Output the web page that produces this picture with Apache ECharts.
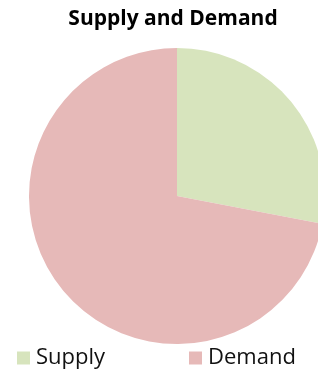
<!DOCTYPE html>
<html><head><meta charset="utf-8">
<script src="https://cdn.jsdelivr.net/npm/echarts@6/dist/echarts.min.js"></script>
<style>html,body{margin:0;padding:0;background:#fff}#c{width:318px;height:370px}</style>
</head><body><div id="c"></div>
<script>
const titleText = 'Supply and Demand';
const categories = ['Supply', 'Demand'];
const values = [28, 72];
const colors = ['#d7e4bd', '#e6b9b8'];

const chart = echarts.init(document.getElementById('c'), null, {renderer: 'canvas'});
const legendText = {fontFamily: 'Open Sans', fontSize: 22, color: '#111', padding: [0,0,0,1]};
chart.setOption({
  animation: false,
  color: colors,
  title: {
    text: titleText, left: 168, top: 4, textAlign: 'center',
    textStyle: {fontFamily: 'Open Sans', fontWeight: 'bold', fontSize: 21, color: '#000'}
  },
  legend: [
    {data: [categories[0]], left: 17, top: 347, padding: 0, icon: 'rect', itemWidth: 13, itemHeight: 13, itemGap: 6,
     textStyle: legendText},
    {data: [categories[1]], left: 189, top: 347, padding: 0, icon: 'rect', itemWidth: 13, itemHeight: 13, itemGap: 6,
     textStyle: legendText}
  ],
  series: [{
    type: 'pie',
    center: [177, 196],
    radius: 148,
    startAngle: 90,
    clockwise: true,
    label: {show: false},
    labelLine: {show: false},
    emphasis: {disabled: true},
    itemStyle: {borderWidth: 0},
    data: categories.map((c, i) => ({name: c, value: values[i]}))
  }]
});
</script></body></html>
